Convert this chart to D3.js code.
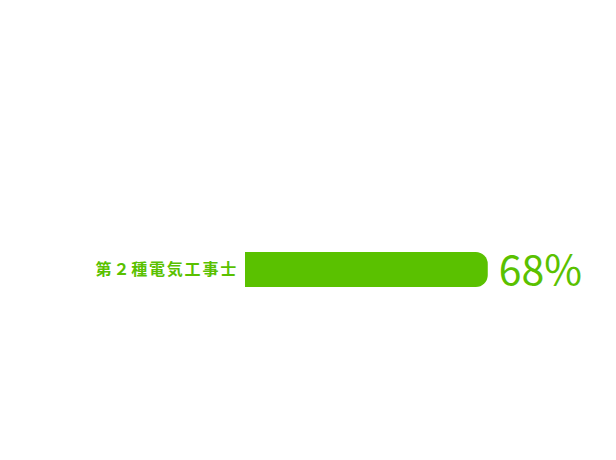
<!DOCTYPE html>
<html>
<head>
<meta charset="utf-8">
<script src="https://cdn.jsdelivr.net/npm/d3@7"></script>
<style>
  body { margin: 0; background: #fff; }
</style>
</head>
<body>
<div id="chart"></div>
<script>
const categories = ["第２種電気工事士"];
const values = [68];
const valueLabels = ["68%"];

const width = 616;
const height = 460;
const green = "#5ac100";

const svg = d3.select("#chart")
    .append("svg")
    .attr("width", width)
    .attr("height", height);

const x = d3.scaleLinear().domain([0, 100]).range([245, 602]);
const y = d3.scaleBand().domain(categories).range([252, 287]);

// bar with rounded right end
function barPath(x0, x1, y0, h, r) {
    return `M${x0},${y0}H${x1 - r}A${r},${r} 0 0 1 ${x1},${y0 + r}V${y0 + h - r}` +
        `A${r},${r} 0 0 1 ${x1 - r},${y0 + h}H${x0}Z`;
}

const rows = svg.selectAll("g.row")
    .data(categories)
    .enter().append("g")
    .attr("class", "row");

rows.append("path")
    .attr("d", (d, i) => barPath(x(0), x(values[i]), y(d), y.bandwidth(), 12))
    .attr("fill", green);

rows.append("text")
    .attr("x", x(0) - 7)
    .attr("y", d => y(d) + y.bandwidth() / 2)
    .attr("dy", "0.36em")
    .attr("text-anchor", "end")
    .attr("fill", green)
    .style("font-family", "'Noto Sans CJK JP', sans-serif")
    .style("font-size", "16px")
    .style("font-weight", "700")
    .style("letter-spacing", "1.8px")
    .text(d => d);

rows.append("text")
    .attr("x", (d, i) => x(values[i]) + 11)
    .attr("y", d => y(d) + y.bandwidth() / 2)
    .attr("dy", "0.38em")
    .attr("fill", green)
    .style("font-family", "'Noto Sans CJK JP', sans-serif")
    .style("font-size", "41px")
    .style("font-weight", "400")
    .text((d, i) => valueLabels[i]);
</script>
</body>
</html>
